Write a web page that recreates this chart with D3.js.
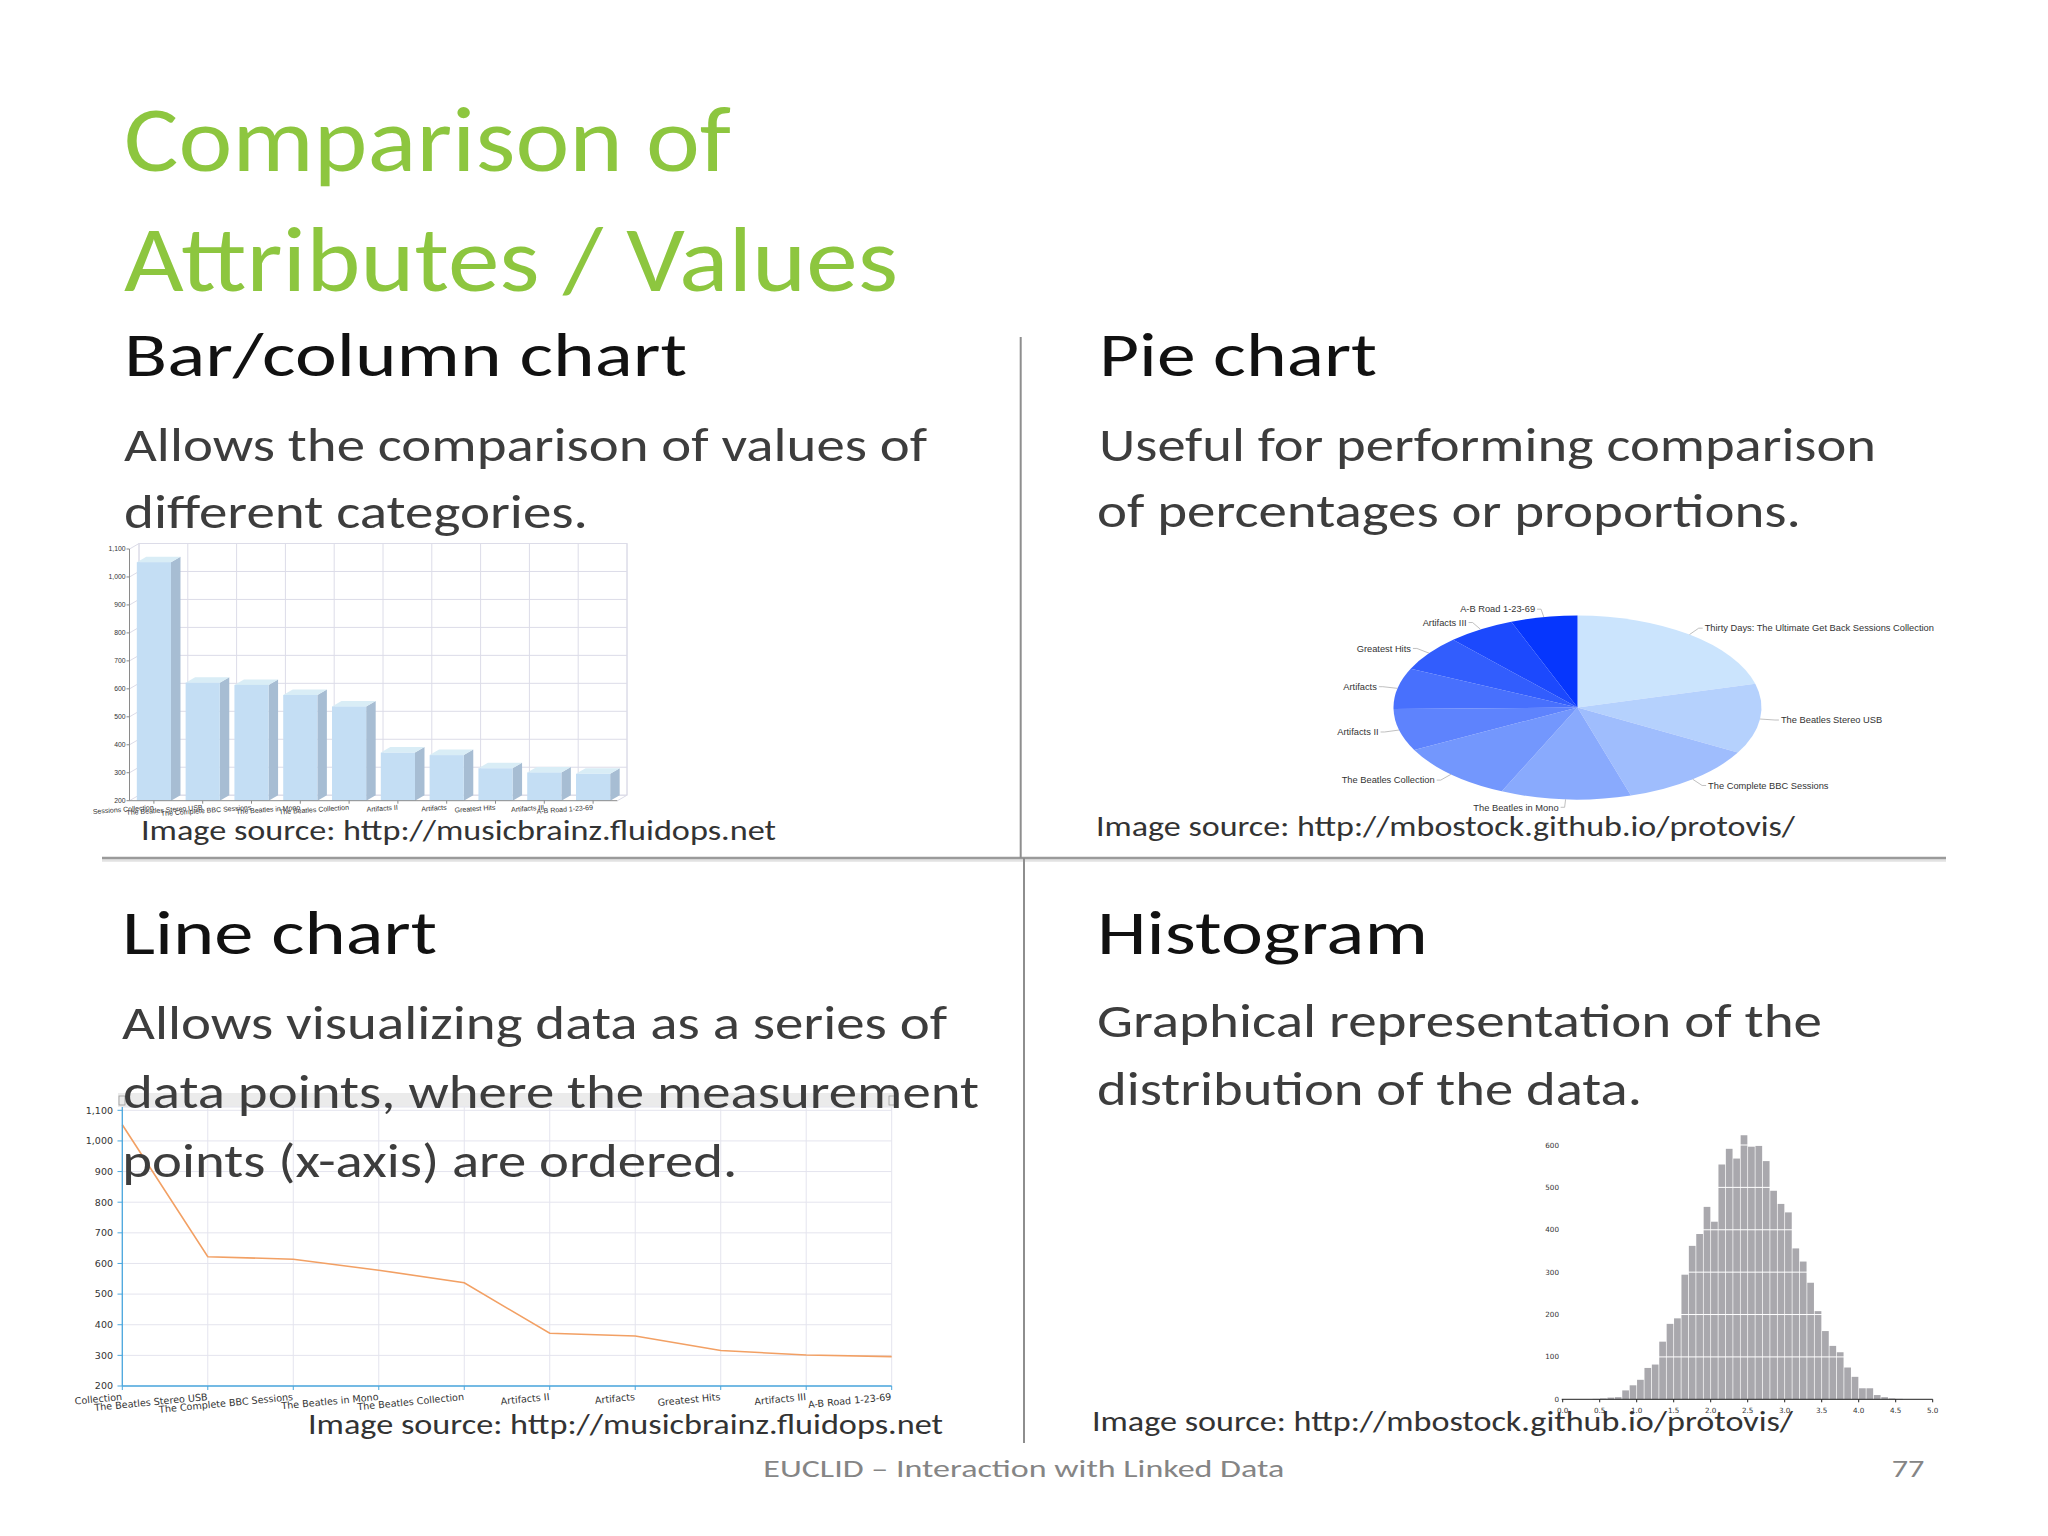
<!DOCTYPE html>
<html><head><meta charset="utf-8">
<script src="https://cdn.jsdelivr.net/npm/d3@7"></script>
<style>body{margin:0;background:#fff}svg{display:block}</style>
</head><body>
<svg id="c" width="2048" height="1536"></svg>
<script>
// ---------------- data ----------------
const albums = ["Thirty Days: The Ultimate Get Back Sessions Collection", "The Beatles Stereo USB",
  "The Complete BBC Sessions", "The Beatles in Mono", "The Beatles Collection", "Artifacts II",
  "Artifacts", "Greatest Hits", "Artifacts III", "A-B Road 1-23-69"];
const albumCounts = [1053, 622, 614, 578, 537, 372, 363, 316, 301, 296];
const countTicks = [200, 300, 400, 500, 600, 700, 800, 900, 1000, 1100];
const histCounts = [0, 0, 0, 0, 1, 2, 4, 5, 21, 33,
  46, 74, 82, 136, 178, 191, 294, 362, 390, 454,
  419, 554, 591, 568, 623, 596, 598, 562, 492, 461,
  441, 356, 325, 275, 208, 161, 126, 111, 75, 53,
  26, 26, 10, 5, 2, 1, 0, 0, 0, 0];
const histXTicks = [0, 0.5, 1, 1.5, 2, 2.5, 3, 3.5, 4, 4.5, 5];
const histYTicks = [0, 100, 200, 300, 400, 500, 600];

// ---------------- setup ----------------
const svg = d3.select("#c");
const SLIDE_FONT = "Carlito, Lato, 'Open Sans', sans-serif";
const fmt = d3.format(",");
function txt(s, x, y, size, w, color) {
  return svg.append("text").attr("x", x).attr("y", y)
    .style("font-family", SLIDE_FONT).style("font-size", size + "px").attr("fill", color)
    .attr("textLength", w).attr("lengthAdjust", "spacingAndGlyphs").text(s);
}
const defs = svg.append("defs");

// ---------------- dividers ----------------
svg.append("line").attr("x1", 102).attr("x2", 1946).attr("y1", 860.5).attr("y2", 860.5).attr("stroke", "#e2e2e2").attr("stroke-width", 2.5);
svg.append("line").attr("x1", 102).attr("x2", 1946).attr("y1", 858).attr("y2", 858).attr("stroke", "#9a9a9a").attr("stroke-width", 2.5);
svg.append("line").attr("x1", 1020.7).attr("x2", 1020.7).attr("y1", 337).attr("y2", 858).attr("stroke", "#8e8e8e").attr("stroke-width", 2);
svg.append("line").attr("x1", 1024).attr("x2", 1024).attr("y1", 858).attr("y2", 1443).attr("stroke", "#8e8e8e").attr("stroke-width", 2);

// ---------------- BAR CHART (3D) ----------------
{
  const g = svg.append("g");
  defs.append("clipPath").attr("id", "clipBar").append("rect").attr("x", 91).attr("y", 530).attr("width", 570).attr("height", 300);
  const x = d3.scaleBand().domain(albums).range([129.5, 617.5]).paddingInner(0.3).paddingOuter(0.15);
  const y = d3.scaleLinear().domain([200, 1100]).range([800.7, 549]);
  const DX = 9.5, DY = 5.5, x0 = 129.5, x1 = 617.5, step = x.step();
  const grid = "#dcdce8";
  g.append("rect").attr("x", x0 + DX).attr("y", y(1100) - DY).attr("width", x1 - x0).attr("height", y(200) - y(1100))
    .attr("fill", "#fff").attr("stroke", grid);
  countTicks.forEach(t => {
    g.append("line").attr("x1", x0 + DX).attr("x2", x1 + DX).attr("y1", y(t) - DY).attr("y2", y(t) - DY).attr("stroke", grid);
    g.append("line").attr("x1", x0).attr("x2", x0 + DX).attr("y1", y(t)).attr("y2", y(t) - DY).attr("stroke", grid);
  });
  d3.range(albums.length + 1).forEach(i => {
    const xx = x0 + i * step + DX;
    g.append("line").attr("x1", xx).attr("x2", xx).attr("y1", y(1100) - DY).attr("y2", y(200) - DY).attr("stroke", grid);
  });
  const bw = x.bandwidth();
  albums.forEach((a, i) => {
    const bx = x(a), top = y(albumCounts[i]), base = y(200);
    g.append("polygon").attr("points", [[bx + bw, top], [bx + bw + DX, top - DY], [bx + bw + DX, base - DY], [bx + bw, base]].join(" "))
      .attr("fill", "#a7bdd3");
    g.append("polygon").attr("points", [[bx, top], [bx + DX, top - DY], [bx + bw + DX, top - DY], [bx + bw, top]].join(" "))
      .attr("fill", "#d9edf6");
    g.append("rect").attr("x", bx).attr("y", top).attr("width", bw).attr("height", base - top).attr("fill", "#c4def4");
  });
  const ax = "#8a8a8a";
  g.append("line").attr("x1", x0).attr("x2", x0).attr("y1", y(1100)).attr("y2", y(200)).attr("stroke", ax);
  g.append("line").attr("x1", x0).attr("x2", x1).attr("y1", y(200)).attr("y2", y(200)).attr("stroke", ax);
  g.append("line").attr("x1", x1).attr("x2", x1 + DX).attr("y1", y(200)).attr("y2", y(200) - DY).attr("stroke", grid);
  countTicks.forEach(t => {
    g.append("line").attr("x1", x0 - 3).attr("x2", x0).attr("y1", y(t)).attr("y2", y(t)).attr("stroke", ax);
    g.append("text").attr("x", x0 - 4).attr("y", y(t)).attr("dy", "0.33em").attr("text-anchor", "end")
      .style("font-family", "'Liberation Sans', Arial, sans-serif").style("font-size", "6.8px").attr("fill", "#333").text(fmt(t));
  });
  const lab = g.append("g").attr("clip-path", "url(#clipBar)");
  albums.forEach(a => {
    const cx = x(a) + bw / 2;
    g.append("line").attr("x1", cx).attr("x2", cx).attr("y1", y(200)).attr("y2", y(200) + 3).attr("stroke", ax);
    lab.append("text").attr("transform", `translate(${cx},${y(200) + 9}) rotate(-4)`).attr("text-anchor", "end")
      .style("font-family", "'Liberation Sans', Arial, sans-serif").style("font-size", "7px").attr("fill", "#333").text(a);
  });
}

// ---------------- PIE CHART ----------------
{
  const cx = 1577.5, cy = 707.5, rx = 184, ry = 92;
  const pie = d3.pie().sort(null).value(d => d)(albumCounts);
  const color = d3.scaleLinear().domain([0, albums.length - 1]).range(["#cbe4fd", "#0636fd"]);
  const arc = d3.arc().innerRadius(0).outerRadius(rx);
  const g = svg.append("g").attr("transform", `translate(${cx},${cy}) scale(1,${ry / rx})`);
  g.selectAll("path").data(pie).join("path").attr("d", arc).attr("fill", (d, i) => color(i));
  pie.forEach((d, i) => {
    const a = (d.startAngle + d.endAngle) / 2, s = Math.sin(a), c = Math.cos(a);
    const ex = cx + rx * s, ey = cy - ry * c;
    const lx = cx + (rx + 15) * s, ly = cy - (ry + 8) * c;
    svg.append("polyline").attr("points", [[ex, ey], [lx, ly], [lx + (s > 0 ? 4 : -4), ly]].join(" "))
      .attr("fill", "none").attr("stroke", "#b0b0b0").attr("stroke-width", 0.8);
    svg.append("text").attr("x", lx + (s > 0 ? 6 : -6)).attr("y", ly).attr("dy", "0.35em")
      .attr("text-anchor", s > 0 ? "start" : "end")
      .style("font-family", "'Liberation Sans', Arial, sans-serif").style("font-size", "9.3px").attr("fill", "#333").text(albums[i]);
  });
}

// ---------------- LINE CHART ----------------
{
  const g = svg.append("g");
  defs.append("clipPath").attr("id", "clipLine").append("rect").attr("x", 72).attr("y", 1380).attr("width", 860).attr("height", 40);
  const x = d3.scalePoint().domain(albums).range([122.3, 891.7]);
  const y = d3.scaleLinear().domain([200, 1100]).range([1386, 1110.3]);
  const grid = "#e4e4ee", blue = "#4aa7de";
  g.append("rect").attr("x", 118).attr("y", 1093).attr("width", 778).attr("height", 14).attr("fill", "#ebebeb");
  g.append("rect").attr("x", 119).attr("y", 1096).attr("width", 6).attr("height", 9).attr("fill", "none").attr("stroke", "#999").attr("stroke-width", 0.8);
  g.append("rect").attr("x", 889).attr("y", 1096).attr("width", 6).attr("height", 9).attr("fill", "none").attr("stroke", "#999").attr("stroke-width", 0.8);
  countTicks.forEach(t => {
    g.append("line").attr("x1", 122.3).attr("x2", 891.7).attr("y1", y(t)).attr("y2", y(t)).attr("stroke", grid);
  });
  g.append("line").attr("x1", 122.3).attr("x2", 891.7).attr("y1", 1107).attr("y2", 1107).attr("stroke", grid);
  albums.forEach(a => g.append("line").attr("x1", x(a)).attr("x2", x(a)).attr("y1", 1107).attr("y2", y(200)).attr("stroke", grid));
  g.append("path").datum(albumCounts).attr("fill", "none").attr("stroke", "#f2a064").attr("stroke-width", 1.6)
    .attr("d", d3.line().x((d, i) => x(albums[i])).y(d => y(d)));
  g.append("line").attr("x1", 122.3).attr("x2", 122.3).attr("y1", 1107).attr("y2", y(200)).attr("stroke", blue).attr("stroke-width", 1.3);
  g.append("line").attr("x1", 122.3).attr("x2", 891.7).attr("y1", y(200)).attr("y2", y(200)).attr("stroke", blue).attr("stroke-width", 1.3);
  countTicks.forEach(t => {
    g.append("line").attr("x1", 117.5).attr("x2", 122.3).attr("y1", y(t)).attr("y2", y(t)).attr("stroke", blue);
    g.append("text").attr("x", 113).attr("y", y(t)).attr("dy", "0.35em").attr("text-anchor", "end")
      .style("font-family", "'DejaVu Sans', sans-serif").style("font-size", "9.5px").attr("fill", "#333").text(fmt(t));
  });
  const lab = g.append("g").attr("clip-path", "url(#clipLine)");
  albums.forEach(a => {
    g.append("line").attr("x1", x(a)).attr("x2", x(a)).attr("y1", y(200)).attr("y2", y(200) + 4).attr("stroke", blue);
    lab.append("text").attr("transform", `translate(${x(a)},${y(200) + 14}) rotate(-5.5)`).attr("text-anchor", "end")
      .style("font-family", "'DejaVu Sans', sans-serif").style("font-size", "9.6px").attr("fill", "#333").text(a);
  });
}

// ---------------- HISTOGRAM ----------------
{
  const g = svg.append("g");
  const x = d3.scaleLinear().domain([0, 5]).range([1562.7, 1932.7]);
  const y = d3.scaleLinear().domain([0, 600]).range([1399.3, 1145]);
  histCounts.forEach((c, i) => {
    if (!c) return;
    const a = x(i / 10), b = x((i + 1) / 10);
    g.append("rect").attr("x", a + 0.35).attr("width", b - a - 0.7).attr("y", y(c)).attr("height", y(0) - y(c)).attr("fill", "#a9a8ad");
  });
  histYTicks.slice(1).forEach(t => g.append("line").attr("x1", x(0)).attr("x2", x(5)).attr("y1", y(t)).attr("y2", y(t)).attr("stroke", "#fff").attr("stroke-width", 1));
  g.append("line").attr("x1", x(0) - 1).attr("x2", x(5)).attr("y1", y(0)).attr("y2", y(0)).attr("stroke", "#222").attr("stroke-width", 1);
  histXTicks.forEach(t => {
    g.append("line").attr("x1", x(t)).attr("x2", x(t)).attr("y1", y(0)).attr("y2", y(0) + 3).attr("stroke", "#222");
    g.append("text").attr("x", x(t)).attr("y", y(0) + 13.5).attr("text-anchor", "middle")
      .style("font-family", "'DejaVu Sans', sans-serif").style("font-size", "7.2px").attr("fill", "#333").text(d3.format(".1f")(t));
  });
  histYTicks.forEach(t => {
    g.append("text").attr("x", 1559).attr("y", y(t)).attr("dy", "0.35em").attr("text-anchor", "end")
      .style("font-family", "'DejaVu Sans', sans-serif").style("font-size", "7.2px").attr("fill", "#333").text(t);
  });
}

// ---------------- SLIDE TEXT ----------------
const green = "#8dc63f", head = "#111", body = "#3d3d3d";
txt("Comparison of", 124, 170.5, 93.5, 607, green);
txt("Attributes / Values", 124, 291, 93.5, 774, green);
txt("Bar/column chart", 124, 375.7, 61.5, 563, head);
txt("Allows the comparison of values of", 124, 460.7, 47.5, 803, body);
txt("different categories.", 124, 527.5, 47.5, 464, body);
txt("Pie chart", 1099, 375.7, 61.5, 278, head);
txt("Useful for performing comparison", 1099, 460.7, 47.5, 777, body);
txt("of percentages or proportions.", 1097, 527, 47.5, 704, body);
txt("Image source: http://musicbrainz.fluidops.net", 141, 840, 28, 635, "#333");
txt("Image source: http://mbostock.github.io/protovis/", 1096, 836.4, 28, 699, "#333");
txt("Line chart", 122, 954, 61.5, 315, head);
txt("Allows visualizing data as a series of", 122, 1039, 47.5, 825, body);
txt("data points, where the measurement", 123, 1108.3, 47.5, 856, body);
txt("points (x-axis) are ordered.", 122.3, 1177, 47.5, 615, body);
txt("Histogram", 1097, 954, 61.5, 331, head);
txt("Graphical representation of the", 1097, 1037, 47.5, 725, body);
txt("distribution of the data.", 1097, 1105, 47.5, 545, body);
txt("Image source: http://musicbrainz.fluidops.net", 308, 1434, 28, 635, "#333");
txt("Image source: http://mbostock.github.io/protovis/", 1092, 1431, 28, 701, "#333");
txt("EUCLID \u2013 Interaction with Linked Data", 763.3, 1476.7, 25, 521, "#858585");
txt("77", 1891.7, 1476.7, 25, 32.7, "#858585");
</script>
</body></html>
